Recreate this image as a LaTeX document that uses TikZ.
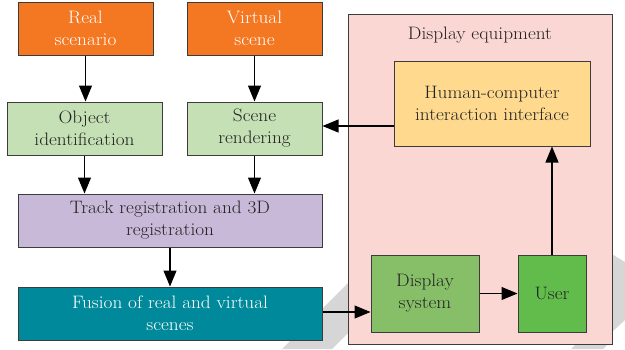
\documentclass[tikz,border=0pt]{standalone}
\usepackage{fontspec}
\setmainfont{Latin Modern Roman}[FakeStretch=1.07]
\usetikzlibrary{arrows.meta,calc}

\definecolor{cOrange}{HTML}{F47722}
\definecolor{cPaleGreen}{HTML}{C6E0B5}
\definecolor{cLavender}{HTML}{C8B9D8}
\definecolor{cTeal}{HTML}{00899A}
\definecolor{cPink}{HTML}{FBD7D4}
\definecolor{cYellow}{HTML}{FFDA8E}
\definecolor{cMidGreen}{HTML}{87BF69}
\definecolor{cGreen}{HTML}{62BC4B}
\definecolor{cEdge}{HTML}{3C3C3C}
\definecolor{cText}{HTML}{222222}
\definecolor{cMark}{HTML}{D6D6D6}

\tikzset{
  label font/.style={font=\fontsize{18}{22}\selectfont},
  box/.style={draw=cEdge, line width=1pt, inner sep=0pt, align=center,
    label font, text=cText},
  arr/.style={draw=black, line width=1.1pt,
    -{Triangle[width=13pt,length=16pt]}},
}

\begin{document}
\begin{tikzpicture}[x=1pt,y=-1pt]
  \useasboundingbox (0,0) rectangle (625,349);
  \fill[white] (0,0) rectangle (625,349);

  % faint chevron marks in the background
  \fill[cMark] (282,349) -- (360,271) -- (380,271) -- (380,301) -- (332,349) -- cycle;
  \fill[cMark] (600,247) -- (625,262) -- (625,320) -- (600,343) -- cycle;
  \fill[cMark] (571,349) -- (580,340) -- (612,340) -- (603,349) -- cycle;

  % display equipment frame
  \node[box, fill=cPink, minimum width=264pt, minimum height=330pt] (equip) at (480,179) {};
  \node[label font, text=cText] (title) at (480,35) {Display equipment};

  % left column
  \node[box, fill=cOrange, text=white, minimum width=135pt, minimum height=53pt] (real) at (85.5,28.5) {Real\\scenario};
  \node[box, fill=cOrange, text=white, minimum width=135pt, minimum height=53pt] (virt) at (254.5,28.5) {Virtual\\scene};
  \node[box, fill=cPaleGreen, minimum width=155pt, minimum height=53pt] (obj) at (84.5,128.5) {Object\\identification};
  \node[box, fill=cPaleGreen, minimum width=135pt, minimum height=53pt] (rend) at (254.5,128.5) {Scene\\rendering};
  \node[box, fill=cLavender, minimum width=304pt, minimum height=53pt] (track) at (170,220.5) {Track registration and 3D\\registration};
  \node[box, fill=cTeal, text=white, minimum width=304pt, minimum height=53pt] (fusion) at (170,313.5) {Fusion of real and virtual\\scenes};

  % inside the display equipment
  \node[box, fill=cYellow, minimum width=196pt, minimum height=85pt] (hci) at (492,103.5) {Human-computer\\interaction interface};
  \node[box, fill=cMidGreen, minimum width=108pt, minimum height=77pt] (dsys) at (425,293.5) {Display\\system};
  \node[box, fill=cGreen, minimum width=68pt, minimum height=77pt] (user) at (552,293.5) {User};

  % connectors
  \draw[arr] (real.south) -- (real.south |- obj.north);
  \draw[arr] (virt.south) -- (virt.south |- rend.north);
  \draw[arr] (obj.south) -- (obj.south |- track.north);
  \draw[arr] (rend.south) -- (rend.south |- track.north);
  \draw[arr] (track.south) -- (track.south |- fusion.north);
  \coordinate (hciout) at ([yshift=2.5pt]rend.east -| hci.west);
  \draw[arr] (hciout) -- (hciout -| rend.east);
  \coordinate (fusout) at ([yshift=1.5pt]fusion.east);
  \draw[arr] (fusout) -- (fusout -| dsys.west);
  \draw[arr] (dsys.east) -- (user.west);
  \draw[arr] (user.north) -- (user.north |- hci.south);
\end{tikzpicture}
\end{document}
